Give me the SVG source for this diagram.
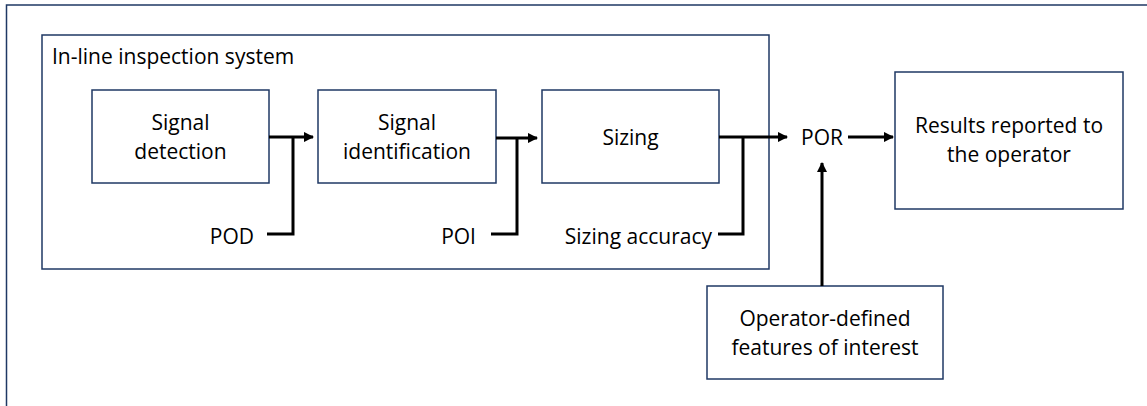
<svg xmlns="http://www.w3.org/2000/svg" width="1147" height="406" viewBox="0 0 1147 406">
<style>
.box{fill:#fff;stroke:#1f3864;stroke-width:1.5}
.frame{fill:none;stroke:#1f3864;stroke-width:1.5}
.t{font-family:"Open Sans","Noto Sans",sans-serif;font-size:21px;fill:#000}
.c{text-anchor:middle}
.ln{fill:none;stroke:#000;stroke-width:3}
</style>
<defs>
<marker id="ah" viewBox="0 0 10 10" refX="9" refY="5" markerWidth="3.5" markerHeight="3.5" markerUnits="strokeWidth" orient="auto">
<path d="M0,0 L10,5 L0,10 z" fill="#000"/>
</marker>
</defs>
<rect width="1147" height="406" fill="#fff"/>
<rect class="frame" x="6.5" y="5" width="1200" height="500"/>
<g id="ili-system">
<rect class="frame" x="42" y="35" width="727" height="234"/>
<text class="t" x="52" y="64">In-line inspection system</text>
</g>
<g id="signal-detection">
<rect class="box" x="92" y="90" width="177" height="93"/>
<text class="t c" x="180.5" y="130">Signal</text>
<text class="t c" x="180.5" y="159">detection</text>
</g>
<g id="signal-identification">
<rect class="box" x="318" y="90" width="178" height="93"/>
<text class="t c" x="407" y="130">Signal</text>
<text class="t c" x="407" y="159">identification</text>
</g>
<g id="sizing">
<rect class="box" x="542" y="90" width="177" height="93"/>
<text class="t c" x="630.5" y="145">Sizing</text>
</g>
<g id="results">
<rect class="box" x="895" y="72" width="228" height="137"/>
<text class="t c" x="1009" y="133">Results reported to</text>
<text class="t c" x="1009" y="162">the operator</text>
</g>
<g id="operator-features">
<rect class="box" x="707" y="286" width="236" height="93"/>
<text class="t c" x="825" y="326">Operator-defined</text>
<text class="t c" x="825" y="355">features of interest</text>
</g>
<g id="pod"><text class="t" x="254" y="244" text-anchor="end">POD</text></g>
<g id="poi"><text class="t" x="476" y="244" text-anchor="end">POI</text></g>
<g id="sizing-accuracy"><text class="t" x="712" y="244" text-anchor="end">Sizing accuracy</text></g>
<g id="por"><text class="t c" x="822" y="145">POR</text></g>
<g id="connectors">
<path class="ln" d="M269,137 H313" marker-end="url(#ah)"/>
<path class="ln" d="M267,234 H293 V137"/>
<path class="ln" d="M496,138 H537" marker-end="url(#ah)"/>
<path class="ln" d="M491,234 H517 V138"/>
<path class="ln" d="M719,137 H787" marker-end="url(#ah)"/>
<path class="ln" d="M718,234 H743 V137"/>
<path class="ln" d="M848,137 H893" marker-end="url(#ah)"/>
<path class="ln" d="M822,286 V163" marker-end="url(#ah)"/>
</g>
</svg>
